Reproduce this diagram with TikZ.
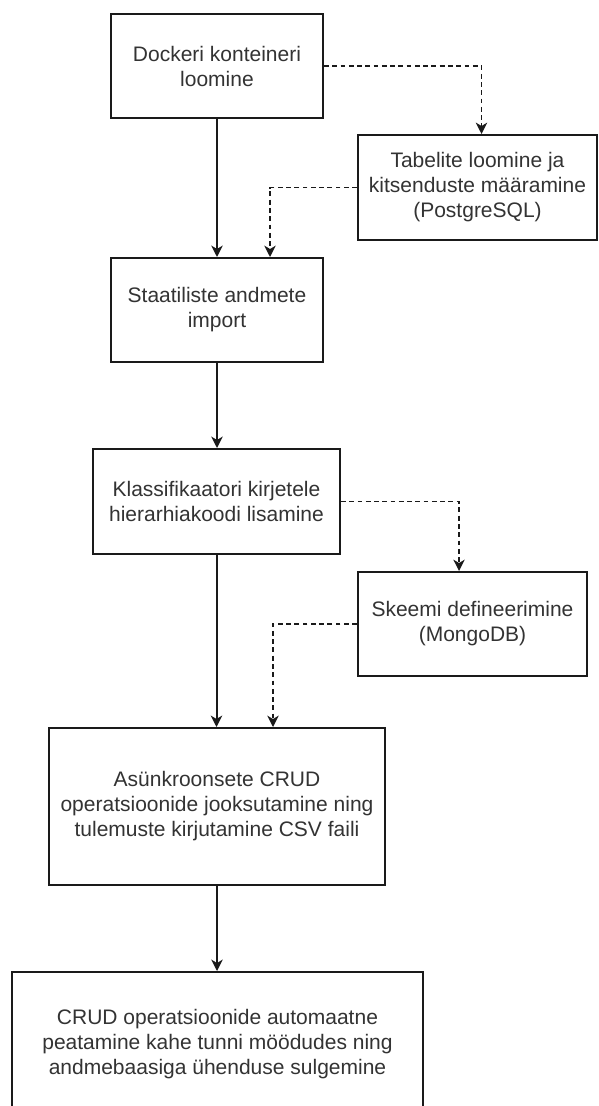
\documentclass[tikz,border=0pt]{standalone}
\usepackage{fontspec}
\setmainfont{Liberation Sans}
\usetikzlibrary{arrows.meta}
\definecolor{ink}{HTML}{1A1A1A}
\definecolor{label}{HTML}{333333}
\begin{document}
\begin{tikzpicture}[x=0.75pt,y=-0.75pt,
  stepbox/.style={draw=ink, line width=1.5pt, rectangle, inner sep=0pt,
    align=center, text=label,
    font=\fontsize{15.75pt}{18.75pt}\selectfont},
  flow/.style={draw=ink, line width=1.5pt,
    -{Stealth[length=8.5pt,width=8.5pt,inset=2.5pt]}},
  aside/.style={draw=ink, line width=1.25pt, dash pattern=on 3.6pt off 2.6pt,
    -{Stealth[length=8.5pt,width=8.5pt,inset=2.5pt]}}]
\useasboundingbox (0,0) rectangle (599,1106);
\clip (0,0) rectangle (599,1106);
\fill[white] (0,0) rectangle (599,1106);

% process steps
\node[stepbox, minimum width=159pt, minimum height=78pt] (b1) at (217,66)
  {Dockeri konteineri\\loomine};
\node[stepbox, minimum width=179.25pt, minimum height=78.75pt] (b2) at (477.5,187.5)
  {Tabelite loomine ja\\kitsenduste määramine\\(PostgreSQL)};
\node[stepbox, minimum width=159pt, minimum height=78pt] (b3) at (217,310)
  {Staatiliste andmete\\import};
\node[stepbox, minimum width=185.25pt, minimum height=78.75pt] (b4) at (216.5,501.5)
  {Klassifikaatori kirjetele\\hierarhiakoodi lisamine};
\node[stepbox, minimum width=171.75pt, minimum height=78pt] (b5) at (472.5,624)
  {Skeemi defineerimine\\(MongoDB)};
\node[stepbox, minimum width=252pt, minimum height=117.75pt] (b6) at (217,806.5)
  {Asünkroonsete CRUD\\operatsioonide jooksutamine ning\\tulemuste kirjutamine CSV faili};
\node[stepbox, minimum width=308.25pt, minimum height=108pt] (b7) at (217.5,1044)
  {CRUD operatsioonide automaatne\\peatamine kahe tunni möödudes ning\\andmebaasiga ühenduse sulgemine};

% main sequence
\draw[flow] (b1.south) -- (b1.south |- b3.north);
\draw[flow] (b3.south) -- (b3.south |- b4.north);
\draw[flow] (b4.south) -- (b4.south |- b6.north);
\draw[flow] (b6.south) -- (b6.south |- b7.north);

% database-specific side steps
\draw[aside] (b1.east) -| ([xshift=3pt]b2.north);
\draw[aside] (b2.west) -| ([xshift=39.75pt]b3.north);
\draw[aside] (b4.east) -| ([xshift=-10.1pt]b5.north);
\draw[aside] (b5.west) -| ([xshift=42pt]b6.north);
\end{tikzpicture}
\end{document}
